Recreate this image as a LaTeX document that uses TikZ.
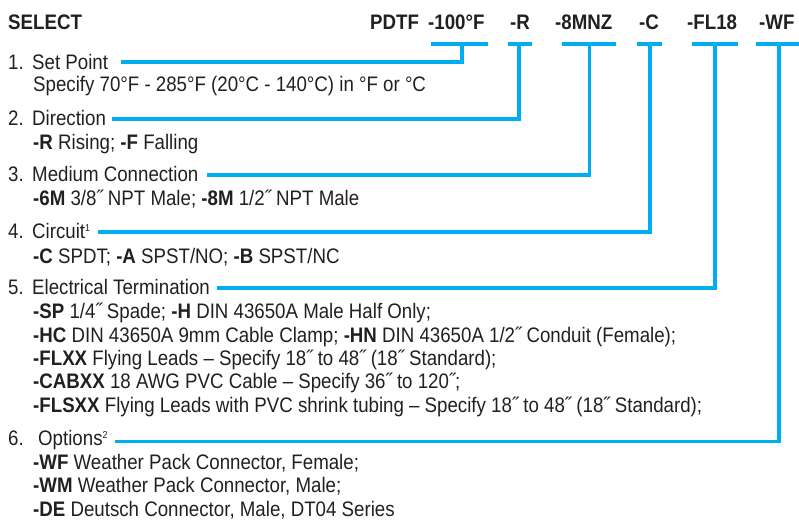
\documentclass[tikz,border=0pt]{standalone}
\usepackage{fontspec}
\setmainfont{Liberation Sans}[FakeStretch=0.89]
\usetikzlibrary{positioning}
\definecolor{codeblue}{RGB}{0,174,239}
\definecolor{ink}{RGB}{35,31,32}
\tikzset{every node/.style={font=\fontsize{21}{23.5}\selectfont, text=ink, inner sep=0pt, anchor=base west}}
\tikzset{code/.style={font=\fontsize{21}{23.5}\selectfont\bfseries},
         lead/.style={draw=codeblue, line width=3.8pt}}
\newcommand{\fnote}[1]{\raisebox{7pt}{\fontsize{10}{10}\selectfont #1}}
\newcommand{\num}[2][24pt]{\makebox[#1][l]{#2}}

\begin{document}
\begin{tikzpicture}[x=1pt,y=-1pt]
      \useasboundingbox (0,0) rectangle (799,521);
      % model code
      \node[code] (sel) at (8,30) {SELECT};
      \node[code] (pdtf) at (370,30) {PDTF};
      \node[code] (c1) at (428,30) {-100°F};
      \node[code] (c2) at (510,30) {-R};
      \node[code] (c3) at (555,30) {-8MNZ};
      \node[code] (c4) at (639,30) {-C};
      \node[code] (c5) at (687,30) {-FL18};
      \node[code] (c6) at (759,30) {-WF};

      % bars under the code
      \foreach \i/\l/\r/\v in {1/430.7/487.7/461.7, 2/507.7/531.7/519, 3/562/616/589.5,
                              4/637/662/650, 5/692/738/715, 6/756/799/779}
      {
        \coordinate (bl\i) at (\l,44);
        \coordinate (br\i) at (\r,44);
        \coordinate (v\i) at (\v,44);
        \draw[lead] (bl\i) -- (br\i);
      }

      % items
      \node (t1) at (8,70) {\num{1.}Set Point};
      \node (s1) at (33,92) {Specify 70°F - 285°F (20°C - 140°C) in °F or °C};

      \node (t2) at (8,126) {\num{2.}Direction};
      \node (s2) at (33,150) {\textbf{-R} Rising; \textbf{-F} Falling};

      \node (t3) at (8,182) {\num{3.}Medium Connection};
      \node (s3) at (33,205) {\textbf{-6M} 3/8˝ NPT Male; \textbf{-8M} 1/2˝ NPT Male};

      \node (t4) at (8,238) {\num{4.}Circuit\fnote{1}};
      \node (s4) at (33,263) {\textbf{-C} SPDT; \textbf{-A} SPST/NO; \textbf{-B} SPST/NC};

      \node (t5) at (8,294) {\num{5.}Electrical Termination};
      \node (s5a) at (33,318) {\textbf{-SP} 1/4˝ Spade; \textbf{-H} DIN 43650A Male Half Only;};
      \node (s5b) at (33,342) {\textbf{-HC} DIN 43650A 9mm Cable Clamp; \textbf{-HN} DIN 43650A 1/2˝ Conduit (Female);};
      \node (s5c) at (33,365) {\textbf{-FLXX} Flying Leads – Specify 18˝ to 48˝ (18˝ Standard);};
      \node (s5d) at (33,388) {\textbf{-CABXX} 18 AWG PVC Cable – Specify 36˝ to 120˝;};
      \node (s5e) at (33,412) {\textbf{-FLSXX} Flying Leads with PVC shrink tubing – Specify 18˝ to 48˝ (18˝ Standard);};

      \node (t6) at (8,445.5) {\num[30pt]{6.}Options\fnote{2}};
      \node (s6a) at (33,469) {\textbf{-WF} Weather Pack Connector, Female;};
      \node (s6b) at (33,492) {\textbf{-WM} Weather Pack Connector, Male;};
      \node (s6c) at (33,516) {\textbf{-DE} Deutsch Connector, Male, DT04 Series};

      % leads from the items up to the code
      \draw[lead] ([xshift=13pt,yshift=8pt]t1.base east) -| (v1);
      \draw[lead] ([xshift=6pt,yshift=7pt]t2.base east) -| (v2);
      \draw[lead] ([xshift=8pt,yshift=7pt]t3.base east) -| (v3);
      \draw[lead] ([xshift=8pt,yshift=6pt]t4.base east) -| (v4);
      \draw[lead] ([xshift=7pt,yshift=6pt]t5.base east) -| (v5);
      \draw[lead] ([xshift=7pt,yshift=4pt]t6.base east) -| (v6);
    \end{tikzpicture}
\end{document}
